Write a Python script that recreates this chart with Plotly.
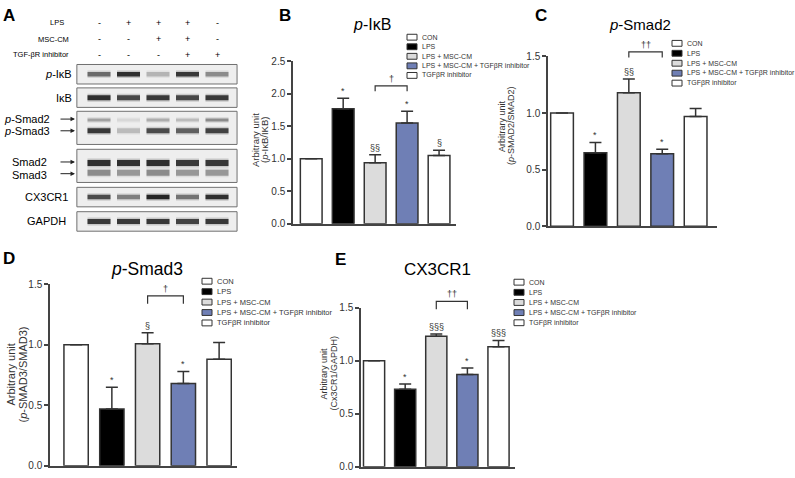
import plotly.graph_objects as go

W, H = 795, 478
FONT = "Liberation Sans, Arial, sans-serif"
INK = "#333333"

# --- Data ---
GROUPS = ["CON", "LPS", "LPS + MSC-CM", "LPS + MSC-CM + TGFβR inhibitor", "TGFβR inhibitor"]
BAR_COLORS = ["#ffffff", "#000000", "#dcdcdc", "#6f7fb5", "#ffffff"]

# B: p-IkB
PIKB_MEAN = [1.0, 1.77, 0.94, 1.55, 1.05]
PIKB_ERR = [0.0, 0.16, 0.12, 0.18, 0.08]
PIKB_MARKS = ["", "*", "§§", "*", "§"]

# C: p-Smad2
PSMAD2_MEAN = [1.0, 0.65, 1.18, 0.64, 0.97]
PSMAD2_ERR = [0.0, 0.09, 0.12, 0.04, 0.07]
PSMAD2_MARKS = ["", "*", "§§", "*", ""]

# D: p-Smad3
PSMAD3_MEAN = [1.0, 0.47, 1.01, 0.68, 0.88]
PSMAD3_ERR = [0.0, 0.18, 0.09, 0.10, 0.14]
PSMAD3_MARKS = ["", "*", "§", "*", ""]

# E: CX3CR1
CX3CR1_MEAN = [1.0, 0.73, 1.23, 0.87, 1.13]
CX3CR1_ERR = [0.0, 0.05, 0.02, 0.06, 0.06]
CX3CR1_MARKS = ["", "*", "§§§", "*", "§§§"]

# A: western blot, treatment matrix and band darkness per lane (0..1)
LPS_SIGNS = ["-", "+", "+", "+", "-"]
MSC_SIGNS = ["-", "-", "+", "+", "-"]
TGF_SIGNS = ["-", "-", "-", "+", "+"]
BAND_PIKB = [0.55, 0.85, 0.22, 0.8, 0.4]
BAND_IKB = [0.85, 0.72, 0.8, 0.72, 0.8]
BAND_PSMAD2 = [0.3, 0.08, 0.25, 0.2, 0.4]
BAND_PSMAD3 = [0.8, 0.2, 0.7, 0.6, 0.75]
BAND_SMAD2 = [0.85, 0.85, 0.85, 0.8, 0.8]
BAND_SMAD3 = [0.4, 0.35, 0.4, 0.35, 0.35]
BAND_CX3CR1 = [0.7, 0.45, 0.9, 0.5, 0.85]
BAND_GAPDH = [0.8, 0.8, 0.8, 0.75, 0.8]


def px(x, y):
    return x / W, 1 - y / H


fig = go.Figure()
shapes = []
annotations = []


def text(x, y, s, size, xref="paper", yref="paper", **kw):
    kw.setdefault("xanchor", "center")
    kw.setdefault("yanchor", "middle")
    color = kw.pop("color", "black")
    annotations.append(dict(x=x, y=y, xref=xref, yref=yref, text=s, showarrow=False,
                            font=dict(family=FONT, size=size, color=color), **kw))


# --- Panel A: blot (axis units: lanes on x, pixels on y) ---
lane_x0, lane_dx = 99, 29.5
xr = (0.2, 5.73)
fig.update_layout(
    xaxis=dict(domain=[(lane_x0 + (xr[0] - 1) * lane_dx) / W, (lane_x0 + (xr[1] - 1) * lane_dx) / W],
               range=list(xr), visible=False, fixedrange=True),
    yaxis=dict(domain=[1 - 233 / H, 1 - 8 / H], range=[233, 8], visible=False, fixedrange=True),
)
lanes = [1, 2, 3, 4, 5]
for row_y, signs in zip([17, 34, 50], [LPS_SIGNS, MSC_SIGNS, TGF_SIGNS]):
    for lane, s in zip(lanes, signs):
        text(lane, row_y, s, 9, xref="x", yref="y")
text(57 / W, 17, "LPS", 7.5, yref="y")
text(53 / W, 34, "MSC-CM", 7.5, yref="y")
text(71 / W, 50, "TGF-βR inhibitor", 7.5, yref="y", xanchor="right")

boxes = [(60, 80), (84, 104), (108, 142), (147, 181), (186, 206), (211, 231)]
for y0, y1 in boxes:
    shapes.append(dict(type="rect", xref="x", yref="y", x0=0.25, x1=5.68, y0=y0, y1=y1,
                       fillcolor="#eeeeee", line=dict(color="#707070", width=1), layer="below"))

bands = [(70, 4.5, BAND_PIKB), (94, 5, BAND_IKB), (117, 3, BAND_PSMAD2), (128, 5, BAND_PSMAD3),
         (161, 6, BAND_SMAD2), (171, 6, BAND_SMAD3), (196, 4.5, BAND_CX3CR1), (221, 5, BAND_GAPDH)]
for yc, th, dark in bands:
    for lane, d in zip(lanes, dark):
        for w, a in [(th + 3, 0.22 * d), (th, d)]:
            fig.add_trace(go.Scatter(x=[lane - 0.39, lane + 0.39], y=[yc, yc], mode="lines",
                                     line=dict(color=f"rgba(20,20,20,{a:.2f})", width=w),
                                     xaxis="x", yaxis="y", showlegend=False, hoverinfo="skip"))

text(74 / W, 70, "<i>p</i>-IκB", 11, yref="y", xanchor="right")
text(74 / W, 94, "IκB", 11, yref="y", xanchor="right")
text(2 / W, 116, "<i>p</i>-Smad2", 11, yref="y", xanchor="left")
text(2 / W, 128, "<i>p</i>-Smad3", 11, yref="y", xanchor="left")
text(10 / W, 160, "Smad2", 11, yref="y", xanchor="left")
text(10 / W, 173, "Smad3", 11, yref="y", xanchor="left")
text(46 / W, 196, "CX3CR1", 11, yref="y")
text(46 / W, 221, "GAPDH", 11, yref="y")
for ay in [116, 128, 160, 172]:
    annotations.append(dict(x=75 / W, y=ay, xref="paper", yref="y", text="", showarrow=True,
                            ax=-16, ay=0, arrowhead=2, arrowsize=0.9, arrowwidth=1, arrowcolor="#222"))

# --- Bar panels ---
PANELS = [
    dict(n="2", mean=PIKB_MEAN, err=PIKB_ERR, marks=PIKB_MARKS, dag="†", br=(2.12, 2.04), ymax=2.5,
         xpx=(293, 456), ypx=(56.7, 223.3), xrange=(-0.57, 4.53), tick_fs=10,
         title="<i>p</i>-IκB", tpx=(372, 19), t_fs=16,
         ytitle=("Arbitrary unit", "(<i>p</i>-IκB/IKB)"), ytx=(255.5, 264.5), yty=138, yt_fs=9.5,
         leg=(407, 32, 9.8, 7), letter=("B", 285, 10)),
    dict(n="3", mean=PSMAD2_MEAN, err=PSMAD2_ERR, marks=PSMAD2_MARKS, dag="††", br=(1.54, 1.49), ymax=1.5,
         xpx=(548, 717), ypx=(51.7, 226), xrange=(-0.42, 4.64), tick_fs=10,
         title="<i>p</i>-Smad2", tpx=(640, 19), t_fs=15,
         ytitle=("Arbitrary unit", "(<i>p</i>-SMAD2/SMAD2)"), ytx=(502, 511), yty=123, yt_fs=9,
         leg=(672, 38.3, 10.2, 7), letter=("C", 541, 10)),
    dict(n="4", mean=PSMAD3_MEAN, err=PSMAD3_ERR, marks=PSMAD3_MARKS, dag="†", br=(1.405, 1.34), ymax=1.5,
         xpx=(50, 237), ypx=(285.5, 471.7), xrange=(-0.73, 4.5), tick_fs=10,
         title="<i>p</i>-Smad3", tpx=(147, 270), t_fs=17.5,
         ytitle=("Arbitrary unit", "(<i>p</i>-SMAD3/SMAD3)"), ytx=(11, 23), yty=378, yt_fs=11,
         leg=(202, 282.3, 10.7, 7.5), letter=("D", 9, 259)),
    dict(n="5", mean=CX3CR1_MEAN, err=CX3CR1_ERR, marks=CX3CR1_MARKS, dag="††", br=(1.558, 1.485), ymax=1.5,
         xpx=(361, 515), ypx=(309.3, 472.7), xrange=(-0.42, 4.53), tick_fs=10,
         title="CX3CR1", tpx=(437, 270), t_fs=17,
         ytitle=("Arbitrary unit", "(Cx3CR1/GAPDH)"), ytx=(324, 334), yty=377, yt_fs=9,
         leg=(514, 283.3, 10.4, 7), letter=("E", 340, 260)),
]

xs = list(range(len(GROUPS)))
for p in PANELS:
    n = p["n"]
    fig.add_trace(go.Bar(
        x=xs, y=p["mean"], width=0.68, xaxis="x" + n, yaxis="y" + n, showlegend=False,
        marker=dict(color=BAR_COLORS, line=dict(color=INK, width=1.5)),
        error_y=dict(type="data", array=p["err"], arrayminus=[0] * len(xs), symmetric=False,
                     width=6, thickness=1.5, color=INK),
    ))
    fig.update_layout(**{
        "xaxis" + n: dict(domain=[p["xpx"][0] / W, p["xpx"][1] / W], range=list(p["xrange"]),
                          anchor="y" + n, showline=True, linecolor="#444", linewidth=1.5,
                          showticklabels=False, ticks="", showgrid=False, zeroline=False, fixedrange=True),
        "yaxis" + n: dict(domain=[1 - p["ypx"][1] / H, 1 - p["ypx"][0] / H], range=[0, p["ymax"]],
                          anchor="x" + n, dtick=0.5, tickformat=".1f", ticks="outside", ticklen=4,
                          tickwidth=1.5, tickcolor="#444", showline=True, linecolor="#444", linewidth=1.5,
                          tickfont=dict(family=FONT, size=p["tick_fs"], color=INK), showgrid=False,
                          zeroline=False, fixedrange=True),
    })
    # significance marks
    for i, m in enumerate(p["marks"]):
        if m:
            text(i, p["mean"][i] + p["err"][i], m, 9, xref="x" + n, yref="y" + n,
                 yanchor="bottom", color=INK)
    # bracket between bars 2 and 3 (domain units so it is not clipped above the range)
    top, end = p["br"]
    d = lambda v: v / p["ymax"]
    shapes.append(dict(type="path", xref="x" + n, yref="y" + n + " domain",
                       path=f"M2,{d(end)} L2,{d(top)} L3,{d(top)} L3,{d(end)}",
                       line=dict(color=INK, width=1.2)))
    text(2.5, d(top), p["dag"], 9, xref="x" + n, yref="y" + n + " domain", yanchor="bottom", color=INK)
    # titles
    text(*px(*p["tpx"]), p["title"], p["t_fs"])
    for line, lxp in zip(p["ytitle"], p["ytx"]):
        text(*px(lxp, p["yty"]), line, p["yt_fs"], textangle=-90, color=INK)
    # manual legend
    lx, ly, dy, fs = p["leg"]
    for i, g in enumerate(GROUPS):
        yc = ly + i * dy
        shapes.append(dict(type="rect", xref="paper", yref="paper",
                           x0=lx / W, x1=(lx + 10) / W, y0=1 - (yc + 3) / H, y1=1 - (yc - 3) / H,
                           fillcolor=BAR_COLORS[i], line=dict(color=INK, width=1)))
        text(*px(lx + 13, yc), g, fs, xanchor="left", color=INK)
    lab, lxp, lyp = p["letter"]
    text(*px(lxp, lyp), f"<b>{lab}</b>", 17)

text(*px(8.5, 10), "<b>A</b>", 17)

fig.update_layout(
    width=W, height=H, margin=dict(l=0, r=0, t=0, b=0),
    paper_bgcolor="white", plot_bgcolor="rgba(0,0,0,0)",
    font=dict(family=FONT), shapes=shapes, annotations=annotations, showlegend=False,
)

# the page body has a default 8px margin; remove it so the figure sits at the window origin
fig.write_html("out.html", config={"displayModeBar": False},
               post_script="document.body.style.margin='0';")
